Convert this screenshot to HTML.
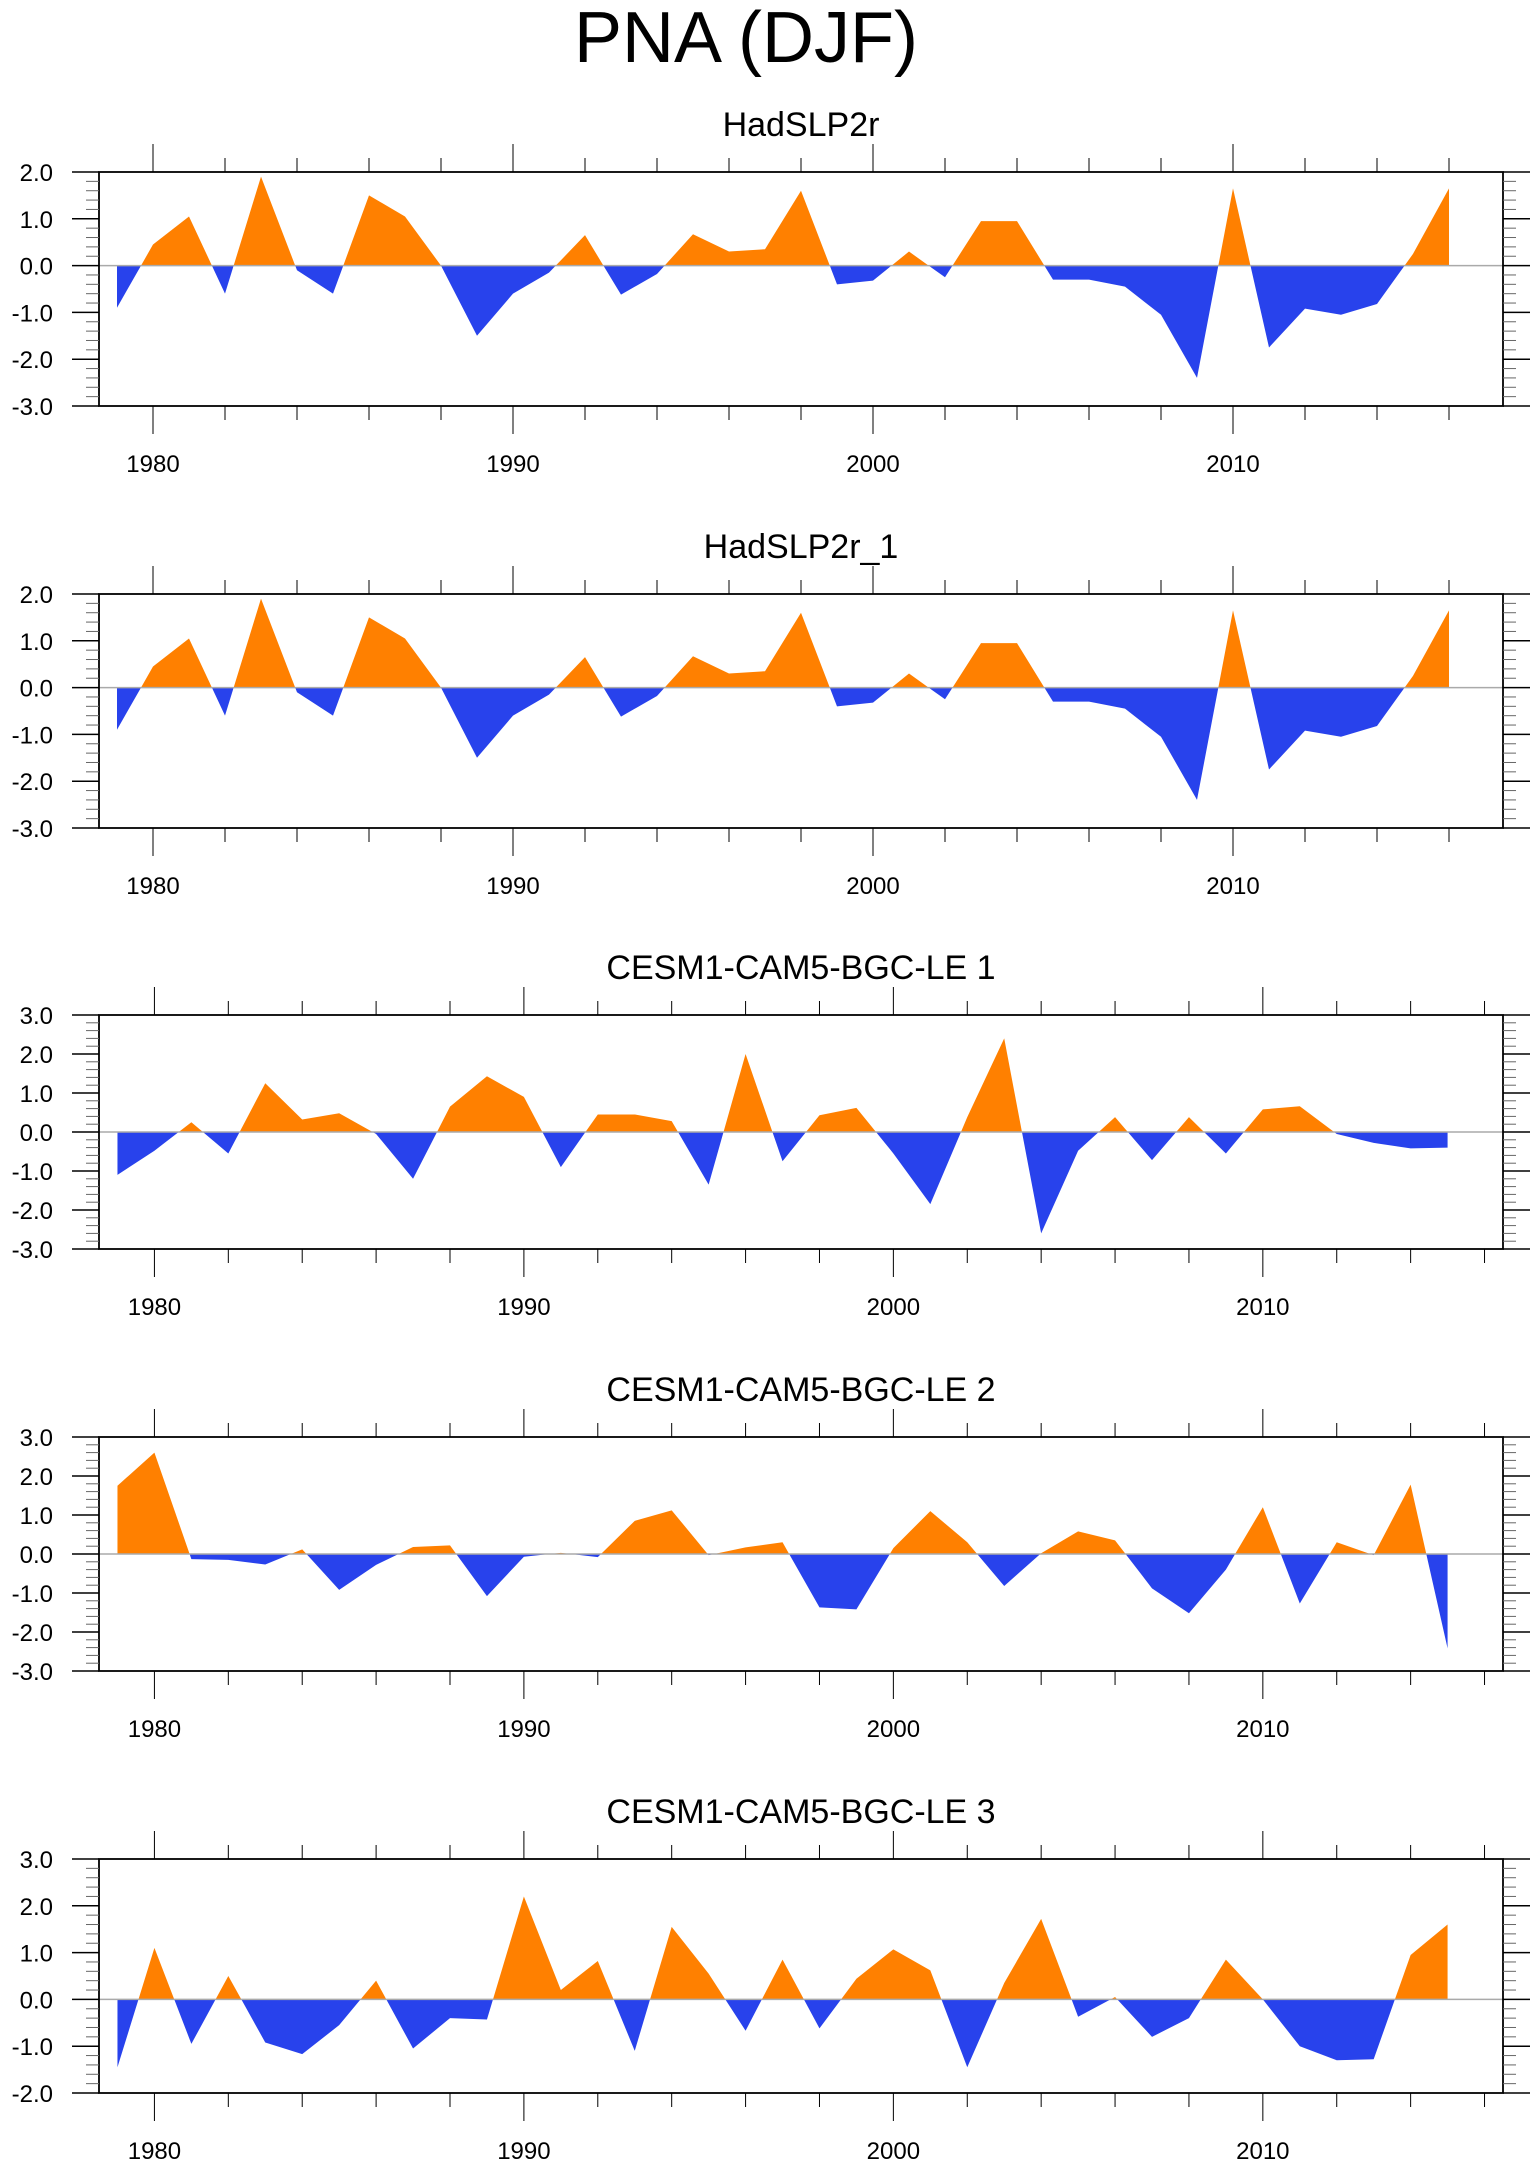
<!DOCTYPE html>
<html><head><meta charset="utf-8"><style>
html,body{margin:0;padding:0;background:#fff;}
svg{display:block;font-family:"Liberation Sans",Arial,sans-serif;}
</style></head><body>
<svg id="chart" width="1540" height="2166" viewBox="0 0 1540 2166" xmlns="http://www.w3.org/2000/svg">
<text x="746" y="62" font-size="72" text-anchor="middle">PNA (DJF)</text>
</svg>
<script>
const panelTitles = ["HadSLP2r","HadSLP2r_1","CESM1-CAM5-BGC-LE 1","CESM1-CAM5-BGC-LE 2","CESM1-CAM5-BGC-LE 3"];
const startYears = [1979,1979,1979,1979,1979];
const had = [-0.9,0.45,1.05,-0.6,1.9,-0.1,-0.6,1.5,1.05,0.0,-1.5,-0.6,-0.15,0.65,-0.62,-0.18,0.67,0.3,0.35,1.6,-0.4,-0.32,0.3,-0.25,0.95,0.95,-0.3,-0.3,-0.45,-1.05,-2.4,1.65,-1.75,-0.92,-1.05,-0.82,0.25,1.65];
const had1 = [-0.9,0.45,1.05,-0.6,1.9,-0.1,-0.6,1.5,1.05,0.0,-1.5,-0.6,-0.15,0.65,-0.62,-0.18,0.67,0.3,0.35,1.6,-0.4,-0.32,0.3,-0.25,0.95,0.95,-0.3,-0.3,-0.45,-1.05,-2.4,1.65,-1.75,-0.92,-1.05,-0.82,0.25,1.65];
const le1 = [-1.1,-0.48,0.25,-0.55,1.25,0.32,0.48,-0.05,-1.2,0.65,1.43,0.9,-0.9,0.45,0.45,0.28,-1.35,2.0,-0.75,0.43,0.62,-0.55,-1.85,0.38,2.4,-2.6,-0.48,0.38,-0.72,0.38,-0.55,0.58,0.66,-0.05,-0.28,-0.42,-0.4];
const le2 = [1.75,2.6,-0.13,-0.15,-0.27,0.12,-0.92,-0.28,0.18,0.22,-1.08,-0.07,0.03,-0.08,0.85,1.12,-0.03,0.17,0.3,-1.37,-1.42,0.15,1.1,0.3,-0.82,0.02,0.58,0.35,-0.88,-1.52,-0.4,1.2,-1.27,0.3,-0.03,1.78,-2.42];
const le3 = [-1.45,1.1,-0.95,0.5,-0.92,-1.17,-0.55,0.4,-1.05,-0.4,-0.43,2.2,0.2,0.82,-1.1,1.55,0.55,-0.67,0.85,-0.62,0.44,1.07,0.62,-1.45,0.35,1.72,-0.37,0.05,-0.8,-0.4,0.85,0.0,-1.0,-1.3,-1.28,0.95,1.6];
const seriesList = [had, had1, le1, le2, le3];
const yMins = [-3,-3,-3,-3,-2];
const yMaxs = [2,2,3,3,3];
const xMins = [1978.5,1978.5,1978.5,1978.5,1978.5];
const xMaxs = [2017.5,2017.5,2016.5,2016.5,2016.5];
const xTickLabels = [1980,1990,2000,2010];

const NS="http://www.w3.org/2000/svg";
const svg=document.getElementById('chart');
function mk(tag,attrs,parent){const e=document.createElementNS(NS,tag);for(const k in attrs)e.setAttribute(k,attrs[k]);(parent||svg).appendChild(e);return e;}
const L=99,R=1503,H=234;
const tops=[172,594,1015,1437,1859];

seriesList.forEach((data,p)=>{
  const top=tops[p],bot=top+H;
  const g=mk('g',{});
  
  
  const xs=v=>L+(v-xMins[p])/(xMaxs[p]-xMins[p])*(R-L);
  const ys=v=>bot-(v-yMins[p])/(yMaxs[p]-yMins[p])*H;
  const y0=ys(0);
  const pts=[];
  for(let i=0;i<data.length;i++){
    const x=startYears[p]+i,v=data[i];
    if(i>0){const pv=data[i-1];if((pv>0&&v<0)||(pv<0&&v>0)){const t=pv/(pv-v);pts.push([x-1+t,0]);}}
    pts.push([x,v]);
  }
  const first=startYears[p],last=startYears[p]+data.length-1;
  function poly(sign){
    let d='M'+xs(first)+','+y0;
    pts.forEach(([x,v])=>{const vv=sign>0?Math.max(v,0):Math.min(v,0);d+='L'+xs(x).toFixed(2)+','+ys(vv).toFixed(2);});
    d+='L'+xs(last)+','+y0+'Z';return d;
  }
  const pos=mk('path',{d:poly(1),fill:'#ff8000'},g);
  
  
  const neg=mk('path',{d:poly(-1),fill:'#2842ec'},g);
  
  
  const zl=mk('line',{x1:L,x2:R,y1:y0,y2:y0,stroke:'#aaa','stroke-width':1.5},g);
  
  
  const fr=mk('rect',{x:L,y:top,width:R-L,height:H,fill:'none',stroke:'#000','stroke-width':1.8},g);
  
  
  for(let yr=1980;yr<=xMaxs[p];yr+=2){
    const x=xs(yr),len=(yr%10===0)?28:14;
    mk('line',{x1:x,x2:x,y1:top,y2:top-len,stroke:'#000','stroke-width':1},g);
    mk('line',{x1:x,x2:x,y1:bot,y2:bot+len,stroke:'#000','stroke-width':1},g);
  }
  xTickLabels.forEach(yr=>{
    const t=mk('text',{x:xs(yr),y:bot+66,'font-size':24,'text-anchor':'middle'},g);
    t.textContent=yr;
    
    
  });
  for(let k=Math.round(yMins[p]*5);k<=Math.round(yMaxs[p]*5);k++){
    const v=k/5,y=ys(v),major=(k%5===0);
    const len=major?27:13;
    mk('line',{x1:L,x2:L-len,y1:y,y2:y,stroke:major?'#000':'#666','stroke-width':major?1.5:1},g);
    mk('line',{x1:R,x2:R+len,y1:y,y2:y,stroke:major?'#000':'#666','stroke-width':major?1.5:1},g);
    if(major){
      const t=mk('text',{x:53,y:y+9,'font-size':24,'text-anchor':'end'},g);
      t.textContent=v.toFixed(1);
      
      
    }
  }
  const tt=mk('text',{x:(L+R)/2,y:top-36,'font-size':34,'text-anchor':'middle'},g);
  tt.textContent=panelTitles[p];
  
  
});
</script>
</body></html>
